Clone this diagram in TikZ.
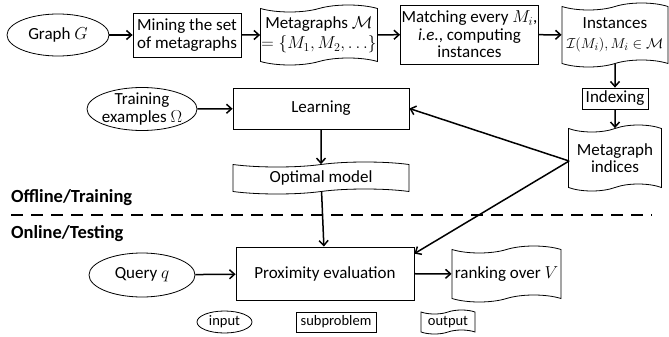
\documentclass[tikz,border=0pt]{standalone}
\usepackage{fontspec}
\setmainfont{Carlito}
\usetikzlibrary{shapes.geometric,shapes.symbols,arrows.meta,calc}
\begin{document}
\begin{tikzpicture}[x=1pt,y=-1pt,
  every node/.style={font=\fontsize{17}{17.5}\selectfont, inner sep=1pt, align=center},
  inbox/.style={ellipse, draw, line width=0.8pt},
  subbox/.style={rectangle, draw, line width=0.8pt},
  outbox/.style={tape, draw, line width=0.8pt, tape bend top=in and out, tape bend bottom=in and out, tape bend height=7pt},
  legfont/.style={font=\fontsize{14.5}{16}\selectfont},
  phase/.style={font=\fontsize{18.5}{19}\selectfont\bfseries, anchor=west, inner sep=0pt},
  arr/.style={line width=1.5pt, -{Straight Barb[length=5pt,width=9pt,line width=1.5pt]}}
]
\useasboundingbox (0,0) rectangle (669,337);

% top row
\node[inbox, minimum width=102pt, minimum height=42pt] (graph) at (58,35) {Graph $G$};
\node[subbox, minimum width=108pt, minimum height=44pt] (mine) at (187,35) {Mining the set\\of metagraphs};
\node[outbox, minimum width=108pt, minimum height=60pt] (meta) at (319,35) {Metagraphs $\mathcal{M}$\\[3pt]$=\{M_1,M_2,\ldots\}$};
\node[subbox, minimum width=138pt, minimum height=59pt] (match) at (469.5,34.5) {Matching every $M_i$,\\\textit{i.e.}, computing\\instances};
\node[outbox, minimum width=106pt, minimum height=64pt, inner xsep=0pt] (inst) at (615,35) {Instances\\[2pt]{\fontsize{15.5}{17}\selectfont$\mathcal{I}(M_i),M_i\in\mathcal{M}$}};
\node[subbox, minimum width=66pt, minimum height=21pt] (index) at (615,98.5) {Indexing};
\node[outbox, minimum width=93pt, minimum height=66pt] (mind) at (615,158) {Metagraph\\indices};

% learning
\node[inbox, minimum width=110pt, minimum height=43pt] (train) at (142,109) {};
\node (traintext) at (train) {Training\\examples $\Omega$};
\node[subbox, minimum width=176pt, minimum height=41pt] (learn) at (321,108.5) {Learning};
\node[outbox, minimum width=176pt, minimum height=32pt, tape bend height=5pt] (opt) at (321,178) {Optimal model};

% phases
\node[phase] (offl) at (11,198) {Offline/Training};
\coordinate (dl) at (11,215);
\coordinate (dr) at (652,215);
\draw[line width=2.8pt, dash pattern=on 12pt off 8pt] (dl) -- (dr);
\node[phase] (onl) at (11,234) {Online/Testing};

% testing
\node[inbox, minimum width=106pt, minimum height=44pt] (query) at (142,275) {Query $q$};
\node[subbox, minimum width=178pt, minimum height=53pt] (prox) at (325,273.5) {Proximity evaluation};
\node[outbox, minimum width=109pt, minimum height=56pt] (rank) at (506.5,274) {ranking over $V$};

% legend
\node[inbox, legfont, minimum width=55pt, minimum height=22pt] (lin) at (224.5,322) {input};
\node[subbox, legfont, minimum width=80pt, minimum height=20pt] (lsub) at (336,322) {subproblem};
\node[outbox, legfont, minimum width=54pt, minimum height=24pt, tape bend height=4pt] (lout) at (448,322) {output};

% arrows
\draw[arr] (graph) -- (mine);
\draw[arr] (mine) -- (meta);
\draw[arr] (meta) -- (match);
\draw[arr] (match) -- (inst);
\draw[arr] (inst) -- (index);
\draw[arr] (index) -- (mind);
\draw[arr] (train) -- (learn);
\draw[arr] (learn) -- (opt);
\draw[arr] (opt) -- (prox);
\draw[arr] (query) -- (prox);
\draw[arr] (prox) -- (rank);
\coordinate (ms) at ($(mind.west)+(1,3)$);
\draw[arr] (ms) -- (learn.east);
\draw[arr] (ms) -- ($(prox.north east)+(0,7)$);
\end{tikzpicture}
\end{document}
